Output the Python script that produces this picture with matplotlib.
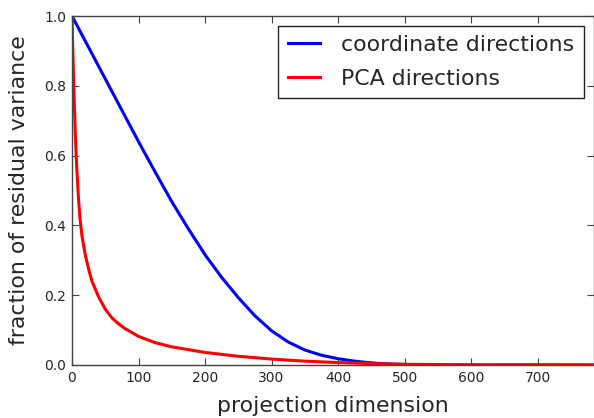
import matplotlib
matplotlib.use("Agg")
import matplotlib.pyplot as plt

# residual variance
coord_dims = [0, 25, 50, 75, 100, 125, 150, 175, 200, 225, 250, 275, 300,
              325, 350, 375, 400, 425, 450, 475, 500, 550, 600, 784]
coord_resid = [1.0, 0.91, 0.82, 0.73, 0.64, 0.553, 0.468, 0.39, 0.316,
               0.251, 0.193, 0.141, 0.098, 0.066, 0.043, 0.028, 0.018, 0.011,
               0.006, 0.003, 0.0015, 0.0003, 0.0, 0.0]

pca_dims = [0, 1, 2, 3, 4, 5, 7, 10, 12, 15, 20, 25, 30, 40, 50, 60, 70, 80,
            100, 125, 150, 200, 250, 300, 350, 400, 450, 500, 600, 700, 784]
pca_resid = [1.0, 0.92, 0.85, 0.78, 0.72, 0.66, 0.57, 0.47, 0.42, 0.37, 0.315,
             0.275, 0.24, 0.195, 0.16, 0.135, 0.118, 0.104, 0.082, 0.064,
             0.052, 0.036, 0.025, 0.017, 0.011, 0.007, 0.004, 0.002, 0.0005,
             0.0001, 0.0]

x_ticks = [0, 100, 200, 300, 400, 500, 600, 700]
y_ticks = [0.0, 0.2, 0.4, 0.6, 0.8, 1.0]

TEXT = "#262626"

fig = plt.figure(figsize=(5.94, 4.18), dpi=100)
ax = fig.add_axes([72 / 594, 1 - 365 / 418, 521.5 / 594, 349 / 418])

ax.plot(coord_dims, coord_resid, color="blue", lw=2.2, label="coordinate directions")
ax.plot(pca_dims, pca_resid, color="red", lw=2.2, label="PCA directions")

ax.set_xlim(0, 784)
ax.set_ylim(0, 1.0)
ax.set_xticks(x_ticks)
ax.set_yticks(y_ticks)
ax.tick_params(direction="in", top=True, right=True, length=5, width=0.8,
               labelsize=10, colors="#444444", labelcolor=TEXT, pad=4)
for s in ax.spines.values():
    s.set_color("#444444")
    s.set_linewidth(1.0)

ax.set_xlabel("projection dimension", fontsize=15.8, color=TEXT, labelpad=8)
ax.set_ylabel("fraction of residual variance", fontsize=15.8, color=TEXT, labelpad=11)

leg = ax.legend(loc="upper right", fontsize=15.8, fancybox=False, framealpha=1,
                edgecolor="#222222", handlelength=1.5, handletextpad=0.95,
                borderpad=0.42, borderaxespad=0.45, labelspacing=0.62)
leg.get_frame().set_linewidth(1.0)
for t in leg.get_texts():
    t.set_color(TEXT)

fig.savefig("out.png", dpi=100)
